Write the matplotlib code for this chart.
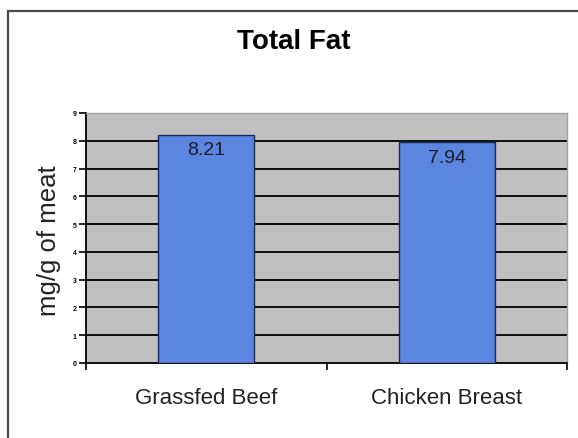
import matplotlib
matplotlib.use('Agg')
import matplotlib.pyplot as plt
from matplotlib.patches import Rectangle

plt.rcParams['font.family'] = ['Liberation Sans', 'DejaVu Sans']

# data
categories = ['Grassfed Beef', 'Chicken Breast']
fat_values = [8.21, 7.94]
value_labels = ['8.21', '7.94']
y_ticks = list(range(0, 10))

fig = plt.figure(figsize=(5.78, 4.39), dpi=100)
fig.patch.set_facecolor('white')

# outer frame of the chart (runs off the right/bottom edge)
W, H = 578, 439
frame = Rectangle((8 / W, -0.05), 1.2, (H - 12) / H + 0.05, transform=fig.transFigure,
                  fill=False, edgecolor='#4a4a4a', lw=1.6, clip_on=False)
fig.patches.append(frame)

ax = fig.add_axes([86 / W, 1 - 364 / H, 481 / W, 250 / H])
ax.set_facecolor('#c0c0c0')

x = list(range(len(categories)))
ax.bar(x, fat_values, width=0.4, color='#5a86e0', edgecolor='#1a2a55', lw=1.0, zorder=3)
for xi, v, lab in zip(x, fat_values, value_labels):
    ax.text(xi, v - 0.22, lab, ha='center', va='top', fontsize=14, color='#1a1a2e', zorder=4)

ax.set_xlim(-0.5, len(categories) - 0.5)
ax.set_ylim(0, 9)
ax.set_yticks(y_ticks)
ax.set_yticklabels([str(t) for t in y_ticks], fontsize=5, fontweight='bold')
for t in y_ticks[1:-1]:
    ax.axhline(t, color='black', lw=1.3, zorder=2)

ax.set_xticks([-0.5, 0.5, 1.5])
ax.set_xticklabels([])
ax.set_xticks(x, minor=True)
ax.set_xticklabels(categories, minor=True, fontsize=16, color='#222222')
ax.tick_params(axis='x', which='minor', length=0, pad=17)
ax.tick_params(axis='x', which='major', direction='out', length=5, width=1.2)
ax.tick_params(axis='y', direction='out', length=5, width=1.2, pad=2)

for side in ['top', 'right']:
    ax.spines[side].set_color('#a0a0a0')
    ax.spines[side].set_linewidth(1.0)
for side in ['left', 'bottom']:
    ax.spines[side].set_color('black')
    ax.spines[side].set_linewidth(1.3)

fig.text(49 / W, 1 - 241 / H, 'mg/g of meat', rotation=90, ha='center', va='center',
         fontsize=18.5, color='#222222')
fig.text(294 / W, 1 - 42 / H, 'Total Fat', ha='center', va='center',
         fontsize=20, fontweight='bold')

fig.savefig('out.png', dpi=100)
